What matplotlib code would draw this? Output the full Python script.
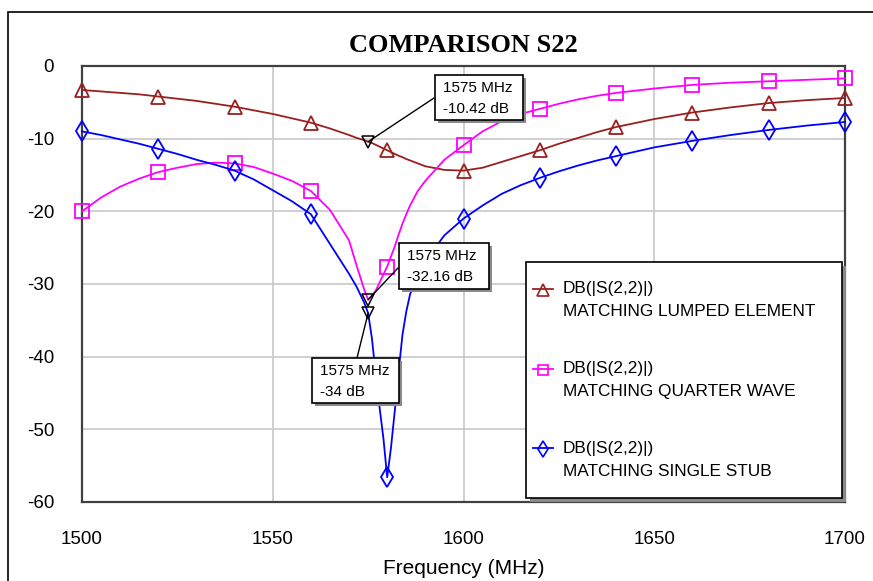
import matplotlib
matplotlib.use("Agg")
from matplotlib import pyplot as plt
from matplotlib.patches import Rectangle, ConnectionPatch
from matplotlib.lines import Line2D

plt.rcParams['font.family'] = ['Liberation Sans', 'DejaVu Sans']
plt.rcParams['axes.unicode_minus'] = False

# frequency points (MHz)
freq = [1500, 1505, 1510, 1515, 1520, 1525, 1530, 1535, 1540, 1545, 1550, 1555, 1560, 1565,
        1570, 1572, 1574, 1575, 1576, 1577, 1578, 1579, 1580, 1581, 1582, 1583, 1584, 1585,
        1586, 1588, 1590, 1595, 1600, 1605, 1610, 1615, 1620, 1625, 1630, 1635, 1640, 1650,
        1660, 1670, 1680, 1690, 1700]

lumped = [-3.3, -3.5, -3.7, -3.9, -4.2, -4.5, -4.8, -5.2, -5.6, -6.1, -6.6, -7.2, -7.8, -8.6,
          -9.5, -9.9, -10.2, -10.42, -10.6, -10.85, -11.1, -11.35, -11.6, -11.85, -12.1, -12.35, -12.55, -12.8,
          -13.0, -13.4, -13.8, -14.3, -14.4, -14.0, -13.2, -12.4, -11.6, -10.7, -9.9, -9.1, -8.4, -7.3,
          -6.4, -5.7, -5.1, -4.7, -4.4]

quarter = [-20.0, -18.1, -16.6, -15.5, -14.6, -14.0, -13.5, -13.3, -13.4, -13.9, -14.8, -15.8, -17.2, -19.8,
           -24.0, -27.5, -30.8, -32.16, -31.6, -30.9, -29.8, -28.7, -27.6, -26.2, -24.8, -23.2, -21.7, -20.4,
           -19.2, -17.2, -15.8, -12.9, -10.9, -9.0, -7.6, -6.6, -5.9, -5.2, -4.6, -4.1, -3.7, -3.1,
           -2.6, -2.3, -2.1, -1.9, -1.7]

stub = [-9.0, -9.5, -10.1, -10.7, -11.4, -12.1, -12.9, -13.6, -14.4, -15.6, -17.1, -18.6, -20.4, -24.5,
        -28.6, -30.4, -32.6, -34.0, -37.5, -42.5, -47.0, -51.2, -56.6, -52.5, -47.4, -42.0, -37.0, -33.8,
        -31.4, -28.8, -26.8, -23.3, -21.0, -19.2, -17.6, -16.4, -15.4, -14.5, -13.7, -13.0, -12.4, -11.2,
        -10.3, -9.5, -8.8, -8.2, -7.7]

series_names = ["MATCHING LUMPED ELEMENT", "MATCHING QUARTER WAVE", "MATCHING SINGLE STUB"]
marker_freq = 1575
marker_labels = ["1575 MHz\n-10.42 dB", "1575 MHz\n-32.16 dB", "1575 MHz\n-34 dB"]

W, H = 873, 581
fig = plt.figure(figsize=(W / 100, H / 100), dpi=100)
ax = fig.add_axes([82 / W, 1 - 502 / H, (845 - 82) / W, (502 - 66) / H])


def px(x, y):
    # pixel (top-left origin) -> figure fraction
    return x / W, 1 - y / H


colors = ['#9a1f1f', '#ff00ff', '#0000ff']
markers = ['^', 's', 'd']
msizes = [10, 9.5, 10]
every = [i for i, f in enumerate(freq) if (f - 1500) % 20 == 0]
i75 = freq.index(marker_freq)

for data, c, m, ms in zip([lumped, quarter, stub], colors, markers, msizes):
    ax.plot(freq, data, color=c, lw=1.3, marker=m, ms=ms, mfc='none', mec=c, mew=1.3,
            markevery=every, clip_on=False, zorder=3)
    ax.plot(freq[i75], data[i75], marker='v', ms=8, mfc='none', mec='black', mew=1.1,
            ls='none', zorder=4)

ax.set_xlim(1500, 1700)
ax.set_ylim(-60, 0)
ax.set_xticks([1500, 1550, 1600, 1650, 1700])
ax.set_yticks([0, -10, -20, -30, -40, -50, -60])
ax.tick_params(length=0, labelsize=13.5, pad=21, colors='black')
ax.tick_params(axis='y', pad=20)
ax.grid(True, color='#c8c8c8', lw=1.2)
ax.set_axisbelow(True)
for s in ax.spines.values():
    s.set_color('#404040')
    s.set_linewidth(1.6)
ax.set_xlabel("Frequency (MHz)", fontsize=15, labelpad=8)
ax.set_title("COMPARISON S22", fontsize=19, fontweight='bold', family='Liberation Serif', pad=10)

# outer frame
fig.add_artist(Rectangle(px(8, 600), 1.0, (600 - 12) / H, transform=fig.transFigure,
                         fill=False, ec='black', lw=1.2))


def shadow_box(x0, y0, x1, y1, off=4):
    fig.add_artist(Rectangle(px(x0 + off, y1 + off), (x1 - x0) / W, (y1 - y0) / H,
                             transform=fig.transFigure, fc='#8a8a8a', ec='none', zorder=5))
    fig.add_artist(Rectangle(px(x0, y1), (x1 - x0) / W, (y1 - y0) / H,
                             transform=fig.transFigure, fc='white', ec='black', lw=1.2, zorder=6))


# marker readouts
boxes = [(435, 75, 523, 120, 434, 98), (399, 243, 489, 289, 398, 268), (312, 358, 399, 403, 357, 358)]
for data, lab, (x0, y0, x1, y1, cx, cy) in zip([lumped, quarter, stub], marker_labels, boxes):
    fig.add_artist(ConnectionPatch(xyA=(freq[i75], data[i75]), coordsA=ax.transData,
                                   xyB=px(cx, cy), coordsB=fig.transFigure,
                                   color='black', lw=1.0, zorder=4))
    shadow_box(x0, y0, x1, y1, off=3)
    l1, l2 = lab.split("\n")
    fig.text(*px(x0 + 8, y0 + 13), l1, fontsize=11, va='center', ha='left', zorder=7)
    fig.text(*px(x0 + 8, y0 + 34), l2, fontsize=11, va='center', ha='left', zorder=7)

# legend
shadow_box(526, 262, 842, 498, off=4)
for k, (c, m, ms, name) in enumerate(zip(colors, markers, msizes, series_names)):
    y = 289 + k * 79.5
    fig.add_artist(Line2D([533 / W, 553 / W], [1 - y / H, 1 - y / H], transform=fig.transFigure,
                          color=c, lw=1.3, zorder=7))
    fig.add_artist(Line2D([543 / W], [1 - (y + 1) / H], transform=fig.transFigure, color=c,
                          marker=m, ms=ms * 0.8, mfc='none', mec=c, mew=1.2, zorder=7))
    fig.text(*px(563, y), "DB(|S(2,2)|)", fontsize=12.4, va='center', ha='left', zorder=7)
    fig.text(*px(563, y + 23), name, fontsize=12.4, va='center', ha='left', zorder=7)

fig.savefig("out.png", dpi=100)
